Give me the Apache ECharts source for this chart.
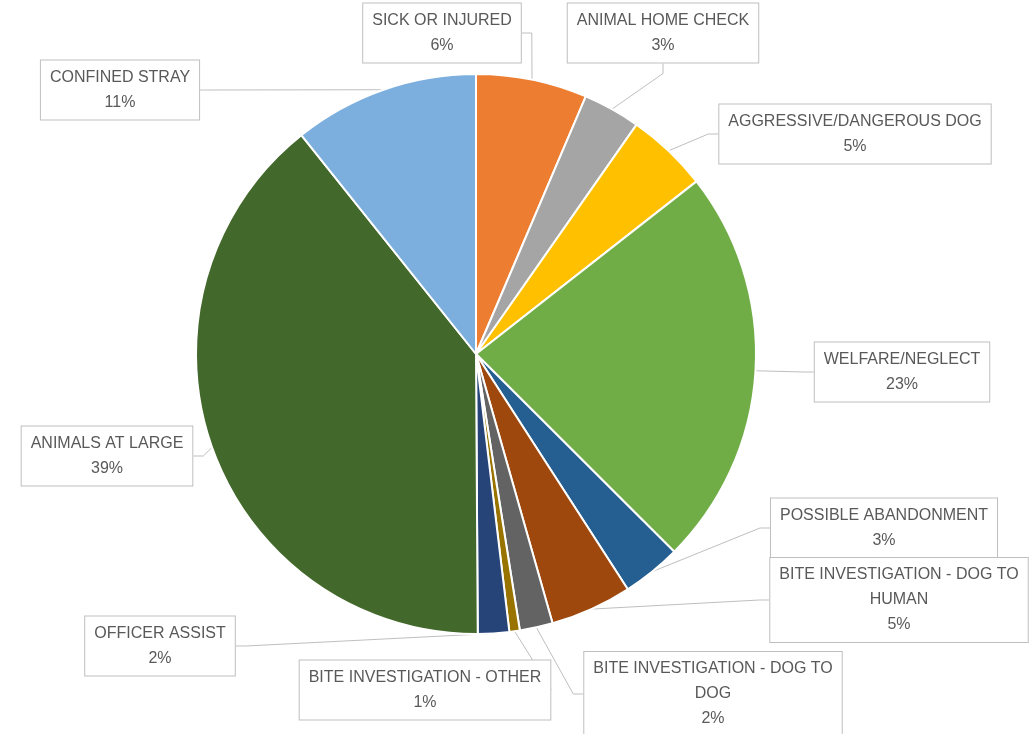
<!DOCTYPE html>
<html>
<head>
<meta charset="utf-8">
<script src="https://cdn.jsdelivr.net/npm/echarts@6/dist/echarts.min.js"></script>
<style>
  html, body { margin: 0; padding: 0; background: #fff; }
  #main { width: 1036px; height: 734px; }
</style>
</head>
<body>
<div id="main"></div>
<script>
// 类别（从 12 点方向顺时针）
const categories = [
  'SICK OR INJURED',
  'ANIMAL HOME CHECK',
  'AGGRESSIVE/DANGEROUS DOG',
  'WELFARE/NEGLECT',
  'POSSIBLE ABANDONMENT',
  'BITE INVESTIGATION - DOG TO HUMAN',
  'BITE INVESTIGATION - DOG TO DOG',
  'BITE INVESTIGATION - OTHER',
  'OFFICER ASSIST',
  'ANIMALS AT LARGE',
  'CONFINED STRAY'
]
// 数量（估计值）
const counts = [64, 33, 47, 230, 34, 47, 19, 6, 18, 393, 107]
const colors = ['#ED7D31', '#A5A5A5', '#FFC000', '#70AD47', '#255E91', '#9E480E',
  '#636363', '#997300', '#264478', '#43682B', '#7CAFDD']

// 标签框中心位置
const labelPos = [
  [442, 33], [663, 33], [855, 134], [902, 372], [884, 528], [899, 600],
  [713, 694], [425, 690], [160, 646], [107, 456], [120, 90]
]

const chart = echarts.init(document.getElementById('main'))
const option = {
  backgroundColor: '#fff',
  animation: false,
  series: [
    {
      type: 'pie',
      center: [476, 354],
      radius: 280,
      startAngle: 90,
      clockwise: true,
      avoidLabelOverlap: false,
      percentPrecision: 0,
      itemStyle: { borderColor: '#fff', borderWidth: 2 },
      label: {
        show: true,
        position: 'outside',
        formatter: p => {
          let name = p.name
          if (name.length > 28) name = name.replace(/ (\S+)$/, '\n$1')
          return name + '\n' + p.percent + '%'
        },
        fontFamily: 'Liberation Sans',
        fontSize: 16,
        lineHeight: 25,
        color: '#595959',
        backgroundColor: '#fff',
        borderColor: '#BFBFBF',
        borderWidth: 1,
        padding: [5, 9, 4, 9],
        align: 'center'
      },
      labelLine: {
        show: true,
        length: 10,
        length2: 10,
        lineStyle: { color: '#BFBFBF', width: 1 }
      },
      labelLayout: params => {
        const pos = labelPos[params.dataIndex]
        return { x: pos[0], y: pos[1], align: 'center', verticalAlign: 'middle' }
      },
      data: categories.map((name, i) => ({
        name: name,
        value: counts[i],
        itemStyle: { color: colors[i] }
      }))
    }
  ]
}
chart.setOption(option)
</script>
</body>
</html>
